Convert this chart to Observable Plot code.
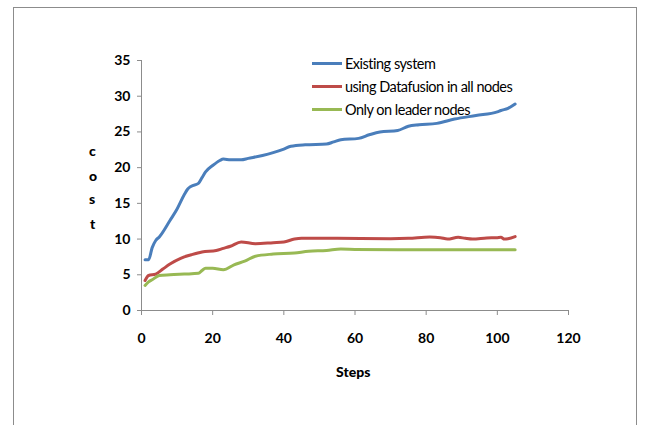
<!DOCTYPE html>
<html>
<head>
<meta charset="utf-8">
<script src="https://cdn.jsdelivr.net/npm/d3@7"></script>
<script src="https://cdn.jsdelivr.net/npm/@observablehq/plot@0.6"></script>
<style>
  body { margin: 0; background: #fff; font-family: Lato, "Open Sans", sans-serif; }
  #wrap { position: relative; width: 645px; height: 425px; overflow: hidden; }
  #frame { position: absolute; left: 13px; top: 7px; width: 624px; height: 440px; border: 1px solid #8c8c8c; box-sizing: border-box; }
  .lbl { position: absolute; font-weight: 900; color: #000; font-size: 14px; }
  .legend { position: absolute; left: 312px; top: 52px; font-size: 14.5px; letter-spacing: -0.5px; color: #000; }
  .legend .row { display: flex; align-items: center; height: 23px; }
  .legend .sw { width: 30px; height: 3px; margin-right: 3px; }
</style>
</head>
<body>
<div id="wrap">
  <div id="frame"></div>
  <div id="chart" style="position:absolute;left:0;top:0;"></div>
  <div class="legend" id="legend"></div>
  <div class="lbl" style="left:89px;top:142px;">c</div>
  <div class="lbl" style="left:89px;top:167px;">o</div>
  <div class="lbl" style="left:89px;top:190px;">s</div>
  <div class="lbl" style="left:90px;top:215px;">t</div>
  <div class="lbl" style="left:336px;top:363px;">Steps</div>
</div>
<script>
const seriesNames = ["Existing system", "using Datafusion in all nodes", "Only on leader nodes"];
const seriesColors = ["#4A7EBB", "#BE4B48", "#98B954"];

const existingSteps = [1,2,3,4,5,8,10,12,13,14,16,17,18,20,22,23,25,28,30,34,37,40,42,46,52,54,56,61,64,67,72,75,78,83,88,94,100,101,103,105];
const existingCost  = [7.1,7.1,8.8,9.8,10.3,12.6,14.2,16.2,17.0,17.4,17.8,18.6,19.4,20.3,21.0,21.2,21.1,21.1,21.3,21.7,22.1,22.6,23.0,23.2,23.3,23.6,23.9,24.1,24.6,25.0,25.2,25.8,26.0,26.2,26.8,27.3,27.8,28.0,28.3,28.9];

const fusionSteps = [1,2,4,6,8,11,14,17,21,23,25,28,32,37,40,43,45,55,70,75,81,84,86,89,91,93,97,100,101,102,103,105];
const fusionCost  = [4.2,4.9,5.1,5.8,6.5,7.3,7.8,8.2,8.4,8.7,9.0,9.6,9.35,9.5,9.6,10.0,10.1,10.1,10.05,10.1,10.3,10.2,10.0,10.25,10.1,10.0,10.15,10.2,10.25,10.0,10.05,10.35];

const leaderSteps = [1,2,3,5,8,12,16,17,18,20,23,26,29,32,37,43,47,52,56,60,72,105];
const leaderCost  = [3.5,4.0,4.3,4.9,5.0,5.1,5.2,5.6,5.9,5.9,5.7,6.4,6.9,7.6,7.9,8.05,8.3,8.4,8.6,8.55,8.5,8.5];

const xTicks = [0,20,40,60,80,100,120];
const yTicks = [0,5,10,15,20,25,30,35];

const data = [
  ...existingSteps.map((s,i) => ({series: seriesNames[0], step: s, cost: existingCost[i]})),
  ...fusionSteps.map((s,i) => ({series: seriesNames[1], step: s, cost: fusionCost[i]})),
  ...leaderSteps.map((s,i) => ({series: seriesNames[2], step: s, cost: leaderCost[i]}))
];

const chart = Plot.plot({
  width: 645,
  height: 425,
  marginLeft: 141,
  marginRight: 77,
  marginTop: 60,
  marginBottom: 115,
  style: {background: "transparent", fontFamily: "Lato, 'Open Sans', sans-serif", fontSize: "14px", fontWeight: "bold", color: "#000"},
  x: {domain: [0,120], ticks: xTicks, label: null},
  y: {domain: [0,35], ticks: yTicks, label: null},
  color: {domain: seriesNames, range: seriesColors},
  marks: [
    Plot.axisX({ticks: xTicks, tickSize: 5, tickPadding: 18, stroke: "#8c8c8c", label: null, fill: "#000", fontWeight: "bold"}),
    Plot.axisY({ticks: yTicks, tickSize: 4, tickPadding: 7, stroke: "#8c8c8c", label: null, fill: "#000", fontWeight: "bold"}),
    Plot.ruleX([0], {stroke: "#8c8c8c"}),
    Plot.ruleY([0], {stroke: "#8c8c8c"}),
    Plot.line(data, {x: "step", y: "cost", z: "series", stroke: "series", strokeWidth: 3, curve: "monotone-x"})
  ]
});
document.getElementById("chart").appendChild(chart);

const legend = document.getElementById("legend");
seriesNames.forEach((n,i) => {
  const row = document.createElement("div");
  row.className = "row";
  row.innerHTML = `<div class="sw" style="background:${seriesColors[i]}"></div><span>${n}</span>`;
  legend.appendChild(row);
});
</script>
</body>
</html>
